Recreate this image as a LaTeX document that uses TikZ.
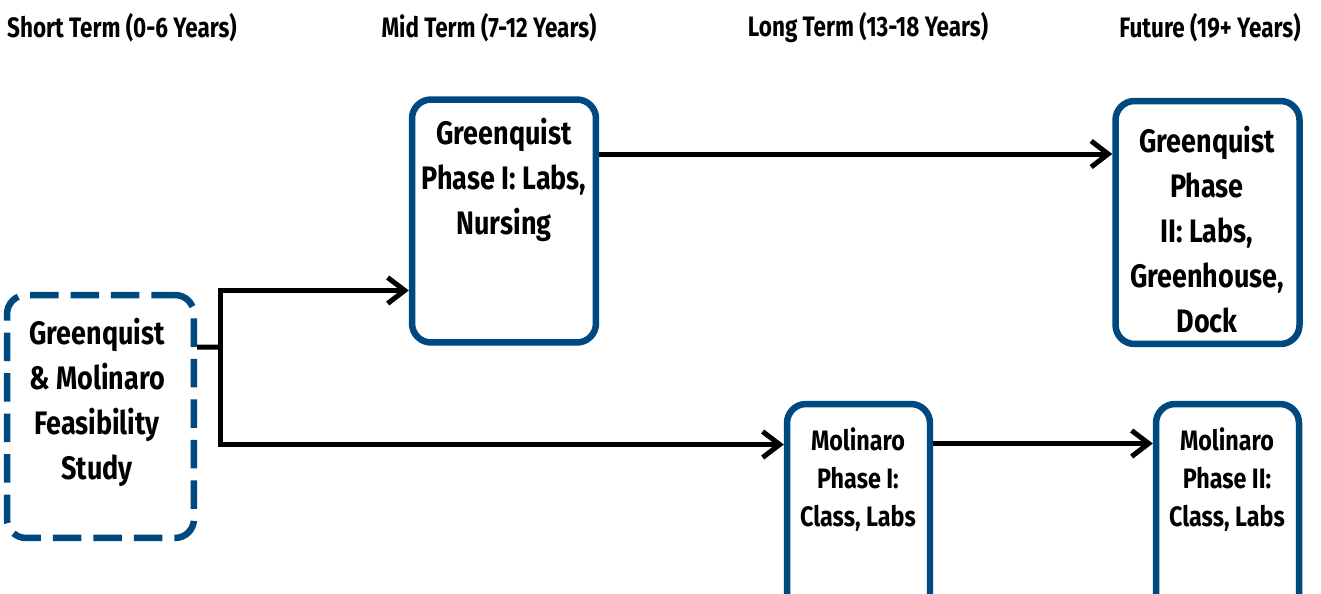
\documentclass[tikz,border=0pt]{standalone}
\usepackage{fontspec}
\setmainfont{Fira Sans}[FakeStretch=0.8]
\newfontfamily\boxfont{Fira Sans}[FakeStretch=0.83]
\usetikzlibrary{arrows.meta,positioning}
\definecolor{planblue}{RGB}{0,72,128}

\tikzset{
  phase/.style={draw=planblue, line width=0.13cm, rounded corners=0.38cm, fill=white,
    inner sep=0pt, minimum width=3.68cm, minimum height=4.86cm},
  study/.style={phase, dash pattern=on 0.57cm off 0.24cm, dash phase=0.1cm},
  bigtext/.style={align=center, font=\boxfont\bfseries\fontsize{18.5}{25.6}\selectfont, inner sep=0pt},
  smalltext/.style={align=center, font=\boxfont\bfseries\fontsize{16}{21.6}\selectfont, inner sep=0pt},
  header/.style={font=\bfseries\fontsize{16}{19}\selectfont, inner sep=0pt},
  flow/.style={line width=0.1cm, -{Straight Barb[length=0.34cm,width=0.52cm,line width=0.1cm]}},
  link/.style={line width=0.1cm}
}

\begin{document}
\begin{tikzpicture}[x=0.02cm,y=-0.02cm]
\useasboundingbox (0,0) rectangle (1321,594);
\clip (0,0) rectangle (1321,594);

% time line headings
\node[header] (short) at (122,28) {Short Term (0-6 Years)};
\node[header] (mid) at (489,28) {Mid Term (7-12 Years)};
\node[header] (long) at (868,28) {Long Term (13-18 Years)};
\node[header] (future) at (1210,28) {Future (19+ Years)};

% boxes
\node[study, minimum width=3.74cm] (feas) at (100.5,416.5) {};
\node[phase] (gp1) at (504,221) {};
\node[phase] (gp2) at (1207.5,222.5) {};
\node[phase, minimum width=2.86cm] (mp1) at (858.5,525.5) {};
\node[phase, minimum width=2.86cm] (mp2) at (1227.5,525.5) {};

% box texts
\node[bigtext] (feastext) at (97,402) {Greenquist\\\& Molinaro\\Feasibility\\Study};
\node[bigtext] (gp1text) at (504,180) {Greenquist\\Phase I: Labs,\\Nursing};
\node[bigtext] (gp2text) at (1207,230) {Greenquist\\Phase\\II: Labs,\\Greenhouse,\\Dock};
\node[smalltext] (mp1text) at (858,480) {Molinaro\\Phase I:\\Class, Labs};
\node[smalltext] (mp2text) at (1227,480) {Molinaro\\Phase II:\\Class, Labs};

% connectors
\coordinate (fork) at (220,347);
\draw[link] ([yshift=1.39cm]feas.east) -- (fork);
\draw[flow] (fork) |- ([yshift=-1.39cm]gp1.west);
\draw[flow] (fork) |- ([yshift=1.62cm]mp1.west);
\draw[flow] ([yshift=1.34cm]gp1.east) -- ([yshift=1.34cm]gp1.east -| gp2.west);
\draw[flow] ([yshift=1.64cm]mp1.east) -- ([yshift=1.64cm]mp1.east -| mp2.west);
\end{tikzpicture}
\end{document}
